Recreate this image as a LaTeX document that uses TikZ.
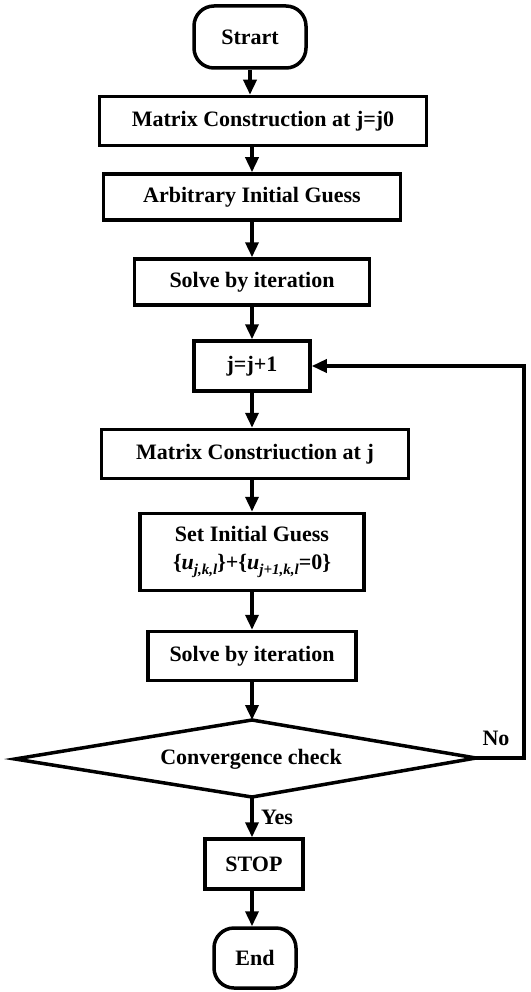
\documentclass[tikz,border=0pt]{standalone}
\usepackage{fontspec}
\setmainfont{Liberation Serif}
\usetikzlibrary{arrows.meta, positioning, calc}
\newcommand{\usub}[1]{\textit{u}\raisebox{-0.5ex}{\fontsize{15}{15}\selectfont\itshape #1}}

\begin{document}
\begin{tikzpicture}[x=1pt, y=-1pt,
  box/.style={draw, line width=3.5pt, inner sep=0pt, align=center,
    font=\fontsize{22}{28}\selectfont\bfseries},
  term/.style={box, rounded corners=20pt},
  arr/.style={-{Triangle[width=13pt,length=15pt]}, line width=3.5pt}]
  \useasboundingbox (0,0) rectangle (530,992);
  % terminals and boxes
  \node[term, minimum width=112, minimum height=62] (start) at (250,37) {Strart};
  \node[box, minimum width=327, minimum height=49] (mat0) at (263,121) {Matrix Construction at j=j0};
  \node[box, minimum width=297, minimum height=46] (arb) at (252,197) {Arbitrary Initial Guess};
  \node[box, minimum width=235, minimum height=46] (solve1) at (252,282) {Solve by iteration};
  \node[box, minimum width=116, minimum height=50] (jinc) at (252,366) {j=j+1};
  \node[box, minimum width=307, minimum height=49] (matj) at (255,454) {Matrix Constriuction at j};
  \node[box, minimum width=224, minimum height=77] (set) at (252,552)
    {Set Initial Guess\\ \{\usub{j,k,l}\}+\{\usub{j+1,k,l}=0\}};
  \node[box, minimum width=208, minimum height=49] (solve2) at (252,656) {Solve by iteration};
  % convergence check
  \coordinate (cl) at (15,759);
  \coordinate (ct) at (252,720);
  \coordinate (cr) at (476,758);
  \coordinate (cb) at (252,797);
  \draw[line width=3.5pt] (cl) -- (ct) -- (cr) -- (cb) -- cycle;
  \node[font=\fontsize{22}{28}\selectfont\bfseries] (conv) at (251,759) {Convergence check};
  \node[box, minimum width=98, minimum height=50] (stop) at (254,864) {STOP};
  \node[term, minimum width=82, minimum height=60] (end) at (255,958) {End};
  % arrows
  \draw[arr] (start) -- (start |- mat0.north);
  \draw[arr] (mat0.south -| arb) -- (arb);
  \draw[arr] (arb) -- (solve1);
  \draw[arr] (solve1) -- (jinc);
  \draw[arr] (jinc) -- (matj.north -| jinc);
  \draw[arr] (matj.south -| set) -- (set);
  \draw[arr] (set) -- (solve2);
  \draw[arr] (solve2) -- (ct);
  \draw[arr] (cb) -- (cb |- stop.north) node[midway, right=4pt, font=\fontsize{22}{28}\selectfont\bfseries] (yes) {Yes};
  \draw[arr] (stop.south -| cb) -- (cb |- end.north);
  % loop back
  \coordinate (rt) at (524,758);
  \draw[arr] (cr) -- (rt) |- (jinc);
  \node[font=\fontsize{22}{28}\selectfont\bfseries] (no) at (496,738) {No};
\end{tikzpicture}
\end{document}
